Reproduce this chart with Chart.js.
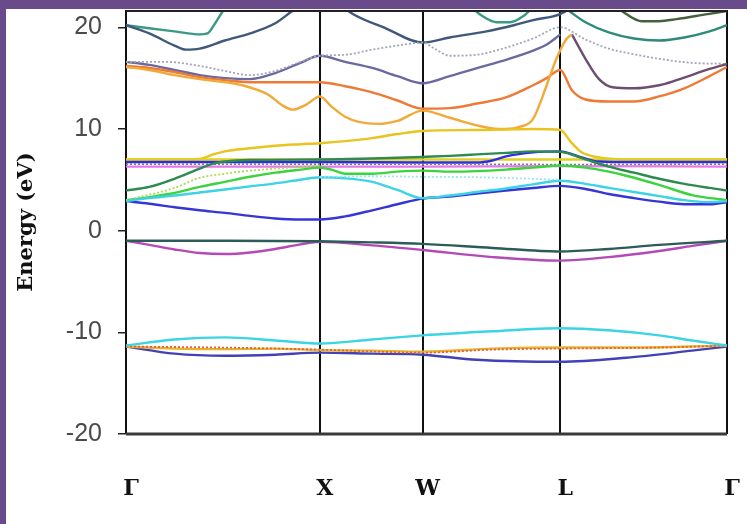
<!DOCTYPE html>
<html>
<head>
<meta charset="utf-8">
<script src="https://cdn.jsdelivr.net/npm/chart.js@4.4.0/dist/chart.umd.min.js"></script>
<style>
    html, body { margin: 0; padding: 0; }
    body { width: 747px; height: 524px; background: #ffffff; position: relative; overflow: hidden; }
    #wrap { position: absolute; left: 0; top: 0; width: 747px; height: 524px; }
    .band-top { position: absolute; left: 0; top: 0; width: 747px; height: 9px; background: #694b8b; }
    .band-left { position: absolute; left: 0; top: 0; width: 6px; height: 524px; background: #694b8b; }
</style>
</head>
<body>
<div id="wrap"><canvas id="bandsChart"></canvas></div>
<div class="band-top"></div>
<div class="band-left"></div>
<script>
// Points de haute symétrie
const kPoints = [0, 1, 1.53, 2.24, 3.10];
const kLabels = ['Γ', 'X', 'W', 'L', 'Γ'];
const energyTicks = [-20, -10, 0, 10, 20];

// Bandes de valence basses (k, E)
const cyanLow = [[0,-11.3],[0.25,-10.7],[0.51,-10.5],[0.77,-10.8],[1.0,-11.1],[1.27,-10.7],[1.53,-10.3],[1.89,-9.9],[2.24,-9.6],[2.49,-9.8],[2.75,-10.3],[2.92,-10.8],[3.10,-11.3]];
const yellowLow = [[0,-11.4],[0.25,-11.6],[0.51,-11.65],[0.77,-11.6],[1.0,-11.75],[1.27,-11.8],[1.53,-11.9],[1.89,-11.6],[2.24,-11.5],[2.62,-11.5],[2.92,-11.4],[3.10,-11.3]];
const redLow = [[0,-11.4],[0.51,-11.5],[1.0,-11.7],[1.53,-12.0],[1.89,-11.7],[2.24,-11.6],[2.75,-11.5],[3.10,-11.3]];
const blueLow = [[0,-11.4],[0.25,-12.1],[0.51,-12.3],[0.77,-12.2],[1.0,-12.0],[1.27,-12.1],[1.53,-12.2],[1.81,-12.7],[2.24,-12.9],[2.58,-12.5],[2.92,-11.8],[3.10,-11.4]];

// Bandes de valence hautes
const tealVal = [[0,-1.0],[0.51,-1.0],[1.0,-1.05],[1.27,-1.15],[1.53,-1.3],[1.89,-1.7],[2.24,-2.05],[2.49,-1.8],[2.75,-1.4],[3.10,-1.0]];
const magentaVal = [[0,-1.0],[0.12,-1.4],[0.25,-1.85],[0.38,-2.2],[0.51,-2.3],[0.64,-2.15],[0.77,-1.8],[0.90,-1.35],[1.0,-1.1],[1.27,-1.45],[1.53,-1.9],[1.89,-2.6],[2.24,-2.95],[2.49,-2.6],[2.75,-2.0],[2.92,-1.5],[3.10,-1.0]];

// Bandes de conduction (0 - 10 eV)
const blueCond = [[0,2.9],[0.12,2.65],[0.25,2.3],[0.38,2.0],[0.51,1.75],[0.64,1.45],[0.77,1.2],[0.90,1.1],[1.0,1.1],[1.13,1.4],[1.27,2.0],[1.40,2.6],[1.53,3.15],[1.67,3.35],[1.81,3.65],[1.96,3.95],[2.10,4.2],[2.24,4.4],[2.37,4.1],[2.49,3.6],[2.62,3.2],[2.75,2.85],[2.88,2.6],[3.01,2.6],[3.10,2.8]];
const cyanCond = [[0,2.9],[0.12,3.2],[0.25,3.45],[0.38,3.75],[0.51,4.05],[0.64,4.35],[0.77,4.65],[0.90,5.0],[1.0,5.25],[1.13,5.15],[1.27,4.8],[1.40,4.0],[1.53,3.2],[1.67,3.45],[1.81,3.8],[1.96,4.15],[2.10,4.55],[2.24,4.9],[2.37,4.6],[2.49,4.2],[2.62,3.8],[2.75,3.4],[2.88,3.0],[3.01,2.8],[3.10,2.9]];
const limeCond = [[0,3.0],[0.12,3.3],[0.25,3.7],[0.38,4.3],[0.51,4.8],[0.64,5.3],[0.77,5.7],[0.90,6.0],[1.0,6.2],[1.06,6.0],[1.13,5.6],[1.27,5.6],[1.40,5.8],[1.53,5.9],[1.67,5.8],[1.81,5.85],[1.96,6.0],[2.10,6.2],[2.24,6.4],[2.37,6.2],[2.49,5.8],[2.58,5.4],[2.75,4.5],[2.92,3.5],[3.10,3.0]];
const lightGreen = [[0,3.0],[0.25,4.2],[0.38,5.2],[0.51,5.6],[0.64,5.9],[0.77,6.1],[1.0,6.4]];
const darkGreen = [[0,3.95],[0.12,4.3],[0.25,5.1],[0.38,6.1],[0.45,6.6],[0.51,6.8],[0.64,6.95],[1.0,7.0],[1.27,7.1],[1.53,7.25],[1.67,7.35],[1.81,7.5],[1.96,7.65],[2.10,7.8],[2.24,7.75],[2.37,7.0],[2.49,6.3],[2.62,5.7],[2.75,5.1],[2.88,4.6],[3.01,4.2],[3.10,3.95]];
const yellowUp = [[0,7.0],[0.25,7.0],[0.38,7.05],[0.45,7.5],[0.51,7.8],[0.64,8.1],[0.77,8.35],[0.90,8.5],[1.0,8.6],[1.13,8.8],[1.27,9.1],[1.40,9.5],[1.53,9.8],[1.81,9.9],[2.10,10.0],[2.24,9.9],[2.30,8.6],[2.35,7.7],[2.44,7.2],[2.62,7.0],[3.10,7.0]];
const yellowFlat = [[0,7.0],[1.0,7.0],[1.53,7.0],[2.24,7.0],[3.10,7.0]];
const blueFlat = [[0,6.75],[1.0,6.75],[1.53,6.7],[1.81,6.7],[1.89,6.9],[1.96,7.3],[2.10,7.7],[2.24,7.8],[2.35,7.2],[2.44,6.8],[2.62,6.75],[3.10,6.75]];
const grayFlat = [[0,6.55],[1.0,6.55],[1.53,6.55],[2.24,6.5],[3.10,6.55]];
const pinkFlat = [[0,6.3],[1.0,6.3],[1.53,6.3],[2.24,6.35],[3.10,6.3]];
const lightCyan = [[1.0,5.3],[1.27,5.35],[1.53,5.3],[1.81,5.25],[2.10,5.1],[2.24,5.0]];

// Bandes hautes (> 10 eV)
const orangeA = [[0,16.2],[0.12,16.0],[0.25,15.6],[0.38,15.1],[0.51,14.8],[0.64,14.6],[0.77,14.6],[0.90,14.6],[1.0,14.6],[1.13,14.2],[1.27,13.6],[1.40,12.8],[1.53,12.0],[1.67,12.05],[1.81,12.5],[1.96,13.1],[2.10,14.3],[2.17,15.0],[2.24,15.8],[2.30,13.8],[2.37,12.9],[2.49,12.7],[2.62,12.7],[2.75,13.2],[2.88,14.0],[3.01,15.2],[3.10,16.1]];
const orangeB = [[0,16.1],[0.12,15.8],[0.25,15.3],[0.38,14.9],[0.51,14.6],[0.60,14.3],[0.67,13.9],[0.74,13.3],[0.80,12.4],[0.86,11.9],[0.93,12.4],[1.0,13.2],[1.06,12.2],[1.13,11.2],[1.20,10.7],[1.30,10.5],[1.40,10.8],[1.53,11.8],[1.67,11.1],[1.81,10.35],[1.89,10.05],[1.96,10.0],[2.03,10.2],[2.10,11.0],[2.17,14.3],[2.22,16.9],[2.27,18.8],[2.30,19.3]];
const mauveR = [[2.30,19.3],[2.37,16.9],[2.44,14.9],[2.51,14.1],[2.62,14.0],[2.75,14.3],[2.84,14.8],[3.01,15.9],[3.10,16.4]];
const purpleA = [[0,16.6],[0.12,16.3],[0.25,15.8],[0.38,15.3],[0.51,15.0],[0.64,14.9],[0.77,15.5],[0.90,16.5],[1.0,17.2],[1.13,16.6],[1.27,16.0],[1.40,15.2],[1.53,14.5],[1.67,15.2],[1.86,16.25],[1.96,16.8],[2.10,17.7],[2.17,18.3],[2.24,19.3]];
const grayB = [[0,16.6],[0.2,16.6],[0.38,16.2],[0.51,15.7],[0.64,15.3],[0.77,15.7],[0.90,16.6],[1.0,17.2],[1.13,17.3],[1.27,17.8],[1.40,18.2],[1.53,18.5],[1.60,17.8],[1.67,17.2],[1.81,17.3],[1.96,18.0],[2.10,18.9],[2.24,20.0],[2.37,18.8],[2.49,17.9],[2.58,17.5],[2.75,16.9],[2.92,16.5],[3.10,16.4]];
const slateL = [[0,20.2],[0.12,19.4],[0.25,18.2],[0.31,17.8],[0.38,17.9],[0.51,18.7],[0.64,19.4],[0.77,20.4],[0.85,21.5],[0.92,22.5]];
const tealL = [[0,20.2],[0.12,19.9],[0.25,19.6],[0.38,19.3],[0.42,19.4],[0.46,20.4],[0.50,21.6],[0.54,22.6]];
const slateM = [[1.08,22.6],[1.17,21.3],[1.34,19.9],[1.53,18.5],[1.67,19.0],[1.86,19.6],[2.0,20.2],[2.10,20.7],[2.24,21.3],[2.32,22.2]];
const tealM = [[1.76,22.4],[1.83,21.2],[1.91,20.5],[1.98,20.5],[2.05,21.1],[2.12,22.4]];
const tealR = [[2.24,22.3],[2.30,21.4],[2.37,20.5],[2.49,19.5],[2.62,18.9],[2.75,18.7],[2.88,19.0],[3.01,19.6],[3.10,20.2]];
const oliveR = [[2.50,22.5],[2.58,21.3],[2.66,20.6],[2.75,20.6],[2.84,20.8],[3.0,21.3],[3.10,21.6]];

// Styles des courbes
const bandStyles = [
    [cyanLow, '#3ad4e4', false],
    [redLow, '#e0604a', true],
    [yellowLow, '#e8b428', false],
    [blueLow, '#4242b4', false],
    [tealVal, '#2c5c58', false],
    [magentaVal, '#b44ab6', false],
    [lightCyan, '#9ae6f0', true],
    [cyanCond, '#3cd4e4', false],
    [blueCond, '#3636d6', false],
    [lightGreen, '#aadc52', true],
    [limeCond, '#3ed23e', false],
    [darkGreen, '#2e8a4e', false],
    [pinkFlat, '#e47ae4', false],
    [grayFlat, '#7a7aa4', true],
    [blueFlat, '#2e2ee0', false],
    [yellowFlat, '#e2d020', false],
    [yellowUp, '#e8c41c', false],
    [orangeB, '#f0aa3a', false],
    [orangeA, '#ee7a36', false],
    [mauveR, '#6c4e70', false],
    [grayB, '#a4a4b8', true],
    [purpleA, '#6a6aa2', false],
    [slateL, '#40587c', false],
    [tealL, '#3a9a84', false],
    [slateM, '#40587c', false],
    [tealM, '#3a9a84', false],
    [tealR, '#2f8a7c', false],
    [oliveR, '#44603e', false]
];

// Cadre du graphique
const framePlugin = {
    id: 'frame',
    afterDatasetsDraw(chart) {
        const { ctx, chartArea: a } = chart;
        ctx.save();
        ctx.strokeStyle = '#222';
        ctx.lineWidth = 2;
        ctx.beginPath();
        ctx.moveTo(a.left, a.top + 1);
        ctx.lineTo(a.right, a.top + 1);
        ctx.stroke();
        ctx.strokeStyle = '#3a3a3a';
        ctx.lineWidth = 3;
        ctx.beginPath();
        ctx.moveTo(a.left, a.bottom);
        ctx.lineTo(a.right, a.bottom);
        ctx.stroke();
        ctx.restore();
    }
};

function initChart() {
    const ctx = document.getElementById('bandsChart').getContext('2d');
    new Chart(ctx, {
        type: 'line',
        data: {
            datasets: bandStyles.map(([band, color, dotted]) => ({
                data: band.map(([k, e]) => ({ x: k, y: e })),
                borderColor: color,
                borderWidth: dotted ? 1.8 : 2.4,
                borderDash: dotted ? [2, 2] : [],
                pointRadius: 0,
                cubicInterpolationMode: 'monotone',
                fill: false
            }))
        },
        plugins: [framePlugin],
        options: {
            responsive: true,
            maintainAspectRatio: false,
            animation: false,
            layout: { padding: { left: 0, right: 20, top: 10, bottom: 0 } },
            plugins: {
                legend: { display: false },
                tooltip: { enabled: false }
            },
            scales: {
                x: {
                    type: 'linear',
                    min: 0,
                    max: 3.10,
                    afterBuildTicks: s => { s.ticks = kPoints.map(v => ({ value: v })); },
                    afterFit: s => { s.height = 90; s.paddingLeft = 0; s.paddingRight = 0; },
                    ticks: {
                        callback: (v, i) => kLabels[i],
                        font: { family: 'DejaVu Serif', weight: 'bold', size: 22 },
                        color: '#111',
                        padding: 42,
                        labelOffset: 5,
                        maxRotation: 0,
                        autoSkip: false
                    },
                    grid: { color: '#111', lineWidth: 2, drawTicks: false },
                    border: { display: false }
                },
                y: {
                    min: -20,
                    max: 21.7,
                    afterBuildTicks: s => { s.ticks = energyTicks.map(v => ({ value: v })); },
                    afterFit: s => { s.width = 126; s.paddingTop = 0; s.paddingBottom = 0; },
                    ticks: {
                        font: { family: 'Liberation Sans', size: 25 },
                        color: '#4a4a4a',
                        padding: 16
                    },
                    grid: { drawOnChartArea: false, color: '#222', tickLength: 8, lineWidth: 1.5 },
                    border: { display: false },
                    title: {
                        display: true,
                        text: 'Energy (eV)',
                        font: { family: 'DejaVu Serif', weight: 'bold', size: 21 },
                        color: '#111',
                        padding: { top: 14, bottom: 0 }
                    }
                }
            }
        }
    });
}

document.addEventListener('DOMContentLoaded', () => {
    initChart();
});
</script>
</body>
</html>
